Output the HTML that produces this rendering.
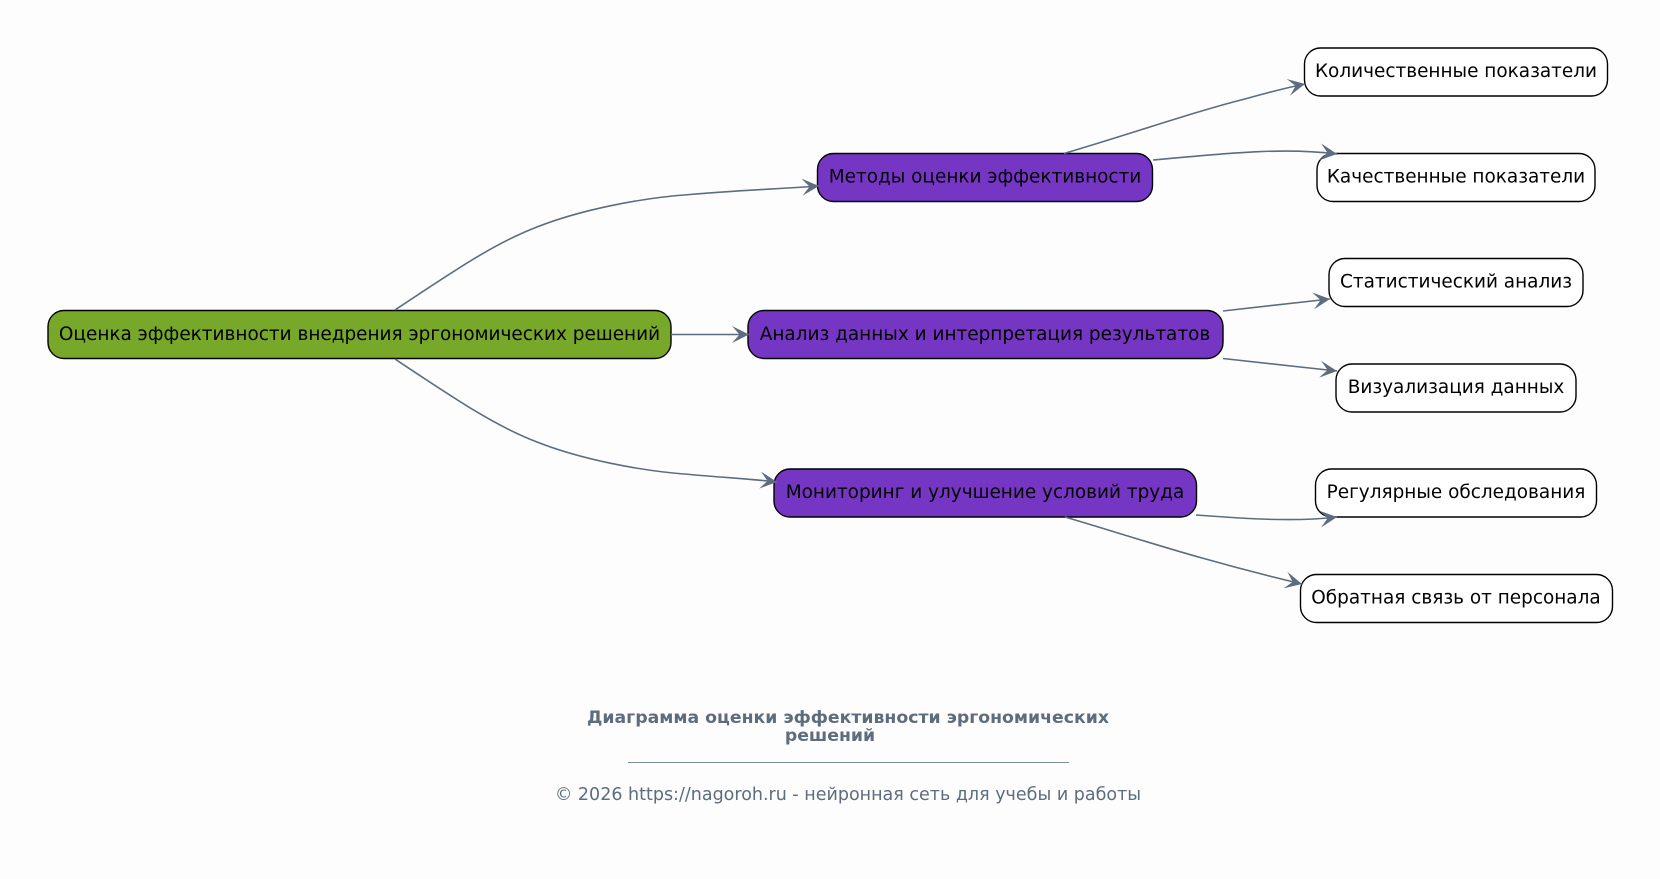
<!DOCTYPE html>
<html><head><meta charset="utf-8"><style>
html,body{margin:0;padding:0;background:#fdfdfd}
svg{display:block}
text{font-family:"DejaVu Sans",sans-serif}
.n{font-size:18.45px;fill:#000;text-anchor:middle;dominant-baseline:central}
.e{fill:none;stroke:#5d6d7e;stroke-width:1.6;marker-end:url(#a)}
.b{stroke:#000;stroke-width:1.4}
</style></head><body>
<svg width="1660" height="879" viewBox="0 0 1660 879" xmlns="http://www.w3.org/2000/svg">
<defs><marker id="a" markerUnits="userSpaceOnUse" markerWidth="24" markerHeight="24" refX="20" refY="12" orient="auto"><path d="M3 3.5 L20 12 L3 20.5 L10.5 12 Z" fill="#5d6d7e"/></marker></defs>
<rect width="1660" height="879" fill="#fdfdfd"/>
<rect class="b" x="48" y="310.5" width="623" height="48" rx="16" fill="#77a829"/>
<text class="n" x="359.5" y="334.5">Оценка эффективности внедрения эргономических решений</text>
<rect class="b" x="817.5" y="153.5" width="335" height="48" rx="16" fill="#7636c4"/>
<text class="n" x="985" y="177">Методы оценки эффективности</text>
<rect class="b" x="748" y="310.5" width="475" height="48" rx="16" fill="#7636c4"/>
<text class="n" x="985" y="334.5">Анализ данных и интерпретация результатов</text>
<rect class="b" x="774" y="469" width="422.5" height="48" rx="16" fill="#7636c4"/>
<text class="n" x="985" y="492.5">Мониторинг и улучшение условий труда</text>
<rect class="b" x="1304.5" y="48" width="303" height="48" rx="16" fill="#fff"/>
<text class="n" x="1456" y="71.5">Количественные показатели</text>
<rect class="b" x="1317" y="153.5" width="278" height="48" rx="16" fill="#fff"/>
<text class="n" x="1456" y="177">Качественные показатели</text>
<rect class="b" x="1329" y="258.5" width="254" height="48" rx="16" fill="#fff"/>
<text class="n" x="1456" y="282">Статистический анализ</text>
<rect class="b" x="1336" y="364" width="240" height="48" rx="16" fill="#fff"/>
<text class="n" x="1456" y="387.5">Визуализация данных</text>
<rect class="b" x="1315.5" y="469" width="281" height="48" rx="16" fill="#fff"/>
<text class="n" x="1456" y="492.5">Регулярные обследования</text>
<rect class="b" x="1300.5" y="574.5" width="312" height="48" rx="16" fill="#fff"/>
<text class="n" x="1456" y="598">Обратная связь от персонала</text>
<path class="e" d="M395 310 C455 270,495 243,537 227 C580 210,640 198,690 194.5 C730 191,775 189,819 186"/>
<path class="e" d="M671 334.5 L749 334.5"/>
<path class="e" d="M395 359 C455 399,495 426,537 442 C580 459,640 471,690 474.5 C730 478,750 479,777 482"/>
<path class="e" d="M1064 153.5 C1130 134,1200 110,1245 99 C1270 92,1285 88,1305 84"/>
<path class="e" d="M1153 160 C1220 154,1280 147,1337 154"/>
<path class="e" d="M1223 311 L1330 299"/>
<path class="e" d="M1223 358.5 L1337 371"/>
<path class="e" d="M1196 515 C1250 519,1295 522,1337 517"/>
<path class="e" d="M1065 517 C1130 536,1200 560,1302 584"/>
<text x="848" y="723" font-size="17.3" font-weight="bold" fill="#5d6d7e" text-anchor="middle">Диаграмма оценки эффективности эргономических</text>
<text x="830" y="741" font-size="17.3" font-weight="bold" fill="#5d6d7e" text-anchor="middle">решений</text>
<rect x="628" y="762" width="441" height="1" fill="#7f8c99"/>
<text x="848" y="800" font-size="17.5" fill="#5d6d7e" text-anchor="middle">© 2026 https://nagoroh.ru - нейронная сеть для учебы и работы</text>
</svg>
</body></html>
